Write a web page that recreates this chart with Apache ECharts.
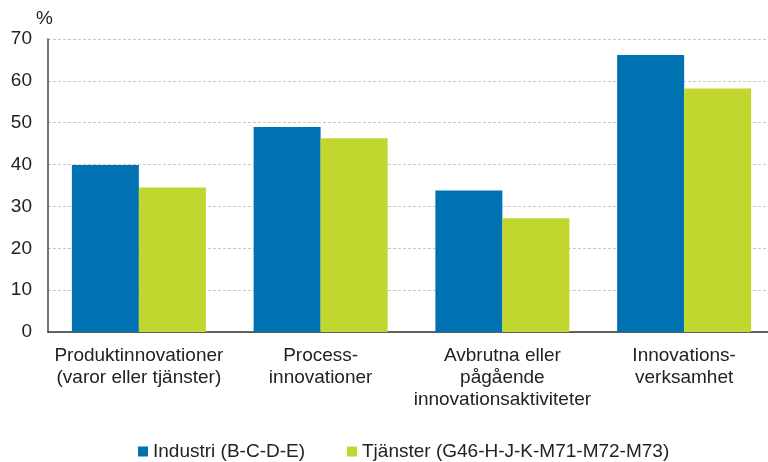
<!DOCTYPE html>
<html>
    <head>
        <meta charset="utf-8">
        <title>Innovationer</title>
        <script src="https://cdn.jsdelivr.net/npm/echarts@6/dist/echarts.min.js"></script>
        <style>
            html, body { margin: 0; padding: 0; background: #fff; }
            #chart { width: 768px; height: 462px; }
        </style>
    </head>
    <body>
        <div id="chart"></div>
        <script type="text/javascript">
            // data
            var categories = [
                'Produktinnovationer\n(varor eller tjänster)',
                'Process-\ninnovationer',
                'Avbrutna eller\npågående\ninnovationsaktiviteter',
                'Innovations-\nverksamhet'
            ];
            var industri = [39.9, 49.0, 33.8, 66.2];
            var tjanster = [34.5, 46.3, 27.2, 58.2];
            var seriesNames = ['Industri (B-C-D-E)', 'Tjänster (G46-H-J-K-M71-M72-M73)'];

            var font = 'Liberation Sans, Arial, sans-serif';
            var myChart = echarts.init(document.getElementById('chart'));

            myChart.setOption({
                animation: false,
                textStyle: { fontFamily: font },
                // the plot runs a little past the right edge in the original
                grid: { left: 48, top: 39, width: 727, height: 293, outerBoundsMode: 'none' },
                legend: {
                    top: 437,
                    left: 133,
                    itemWidth: 10,
                    itemHeight: 10,
                    itemGap: 42,
                    icon: 'rect',
                    textStyle: { fontSize: 19, color: '#222', fontFamily: font },
                    data: seriesNames
                },
                xAxis: {
                    type: 'category',
                    data: categories,
                    axisTick: { show: false },
                    axisLine: { lineStyle: { color: '#333', width: 1.5 } },
                    axisLabel: {
                        interval: 0,
                        margin: 13,
                        fontSize: 19,
                        lineHeight: 22,
                        color: '#222',
                        fontFamily: font
                    }
                },
                yAxis: {
                    type: 'value',
                    min: 0,
                    max: 70,
                    interval: 10,
                    name: '%',
                    nameLocation: 'end',
                    nameGap: 11,
                    nameTextStyle: { fontSize: 19, color: '#222', align: 'right', padding: [0, -5, 0, 0] },
                    axisLine: { show: true, lineStyle: { color: '#444', width: 1.5 } },
                    axisTick: { show: false },
                    axisLabel: { fontSize: 19, color: '#222', margin: 16, fontFamily: font },
                    splitLine: { lineStyle: { color: '#c8c8c8', type: [3, 2] } }
                },
                series: [
                    {
                        name: seriesNames[0],
                        type: 'bar',
                        data: industri,
                        barWidth: 67,
                        barGap: '0%',
                        itemStyle: { color: '#0072B1' }
                    },
                    {
                        name: seriesNames[1],
                        type: 'bar',
                        data: tjanster,
                        barWidth: 67,
                        barGap: '0%',
                        itemStyle: { color: '#C1D72F' }
                    }
                ]
            });
        </script>
    </body>
</html>
